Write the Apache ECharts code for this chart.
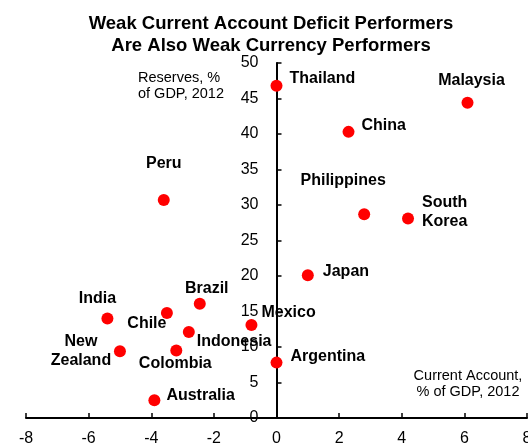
<!DOCTYPE html>
<html>
<head>
<meta charset="utf-8">
<script src="https://cdn.jsdelivr.net/npm/echarts@6/dist/echarts.min.js"></script>
<style>
  html, body { margin: 0; padding: 0; background: #fff; }
  #chart { width: 528px; height: 446px; }
</style>
</head>
<body>
<div id="chart"></div>
<script>
// 数据
const countries = ['Thailand', 'Malaysia', 'China', 'Philippines', 'South\nKorea', 'Japan', 'Peru', 'Brazil',
    'India', 'Chile', 'Indonesia', 'Mexico', 'New\nZealand', 'Colombia', 'Australia', 'Argentina'];
const currentAccount = [0.0, 6.1, 2.3, 2.8, 4.2, 1.0, -3.6, -2.45, -5.4, -3.5, -2.8, -0.8, -5.0, -3.2, -3.9, 0.0];
const reserves = [46.8, 44.4, 40.3, 28.7, 28.1, 20.1, 30.7, 16.1, 14.0, 14.8, 12.1, 13.1, 9.4, 9.5, 2.5, 7.8];
const xTicks = [-8, 8, 2];
const yTicks = [0, 50, 5];

// 标签位置 (相对点的偏移)
const labelPlace = {
    'Thailand': ['left', 13, -7],
    'Malaysia': ['center', 4, -22],
    'China': ['left', 13, -6],
    'Philippines': ['center', -21, -34],
    'South\nKorea': ['left', 14, -6],
    'Japan': ['left', 15, -4],
    'Peru': ['center', 0, -36],
    'Brazil': ['center', 7, -15],
    'India': ['center', -10, -20],
    'Chile': ['center', -20, 11],
    'Indonesia': ['left', 8, 10],
    'Mexico': ['left', 10, -12],
    'New\nZealand': ['center', -39, 0],
    'Colombia': ['center', -1, 13],
    'Australia': ['left', 12, -5],
    'Argentina': ['left', 14, -6]
};

const font = 'Liberation Sans, Arial, sans-serif';
const gridLeft = 26, gridRight = 1;
const gridWidth = 528 - gridLeft - gridRight;

const points = countries.map((name, i) => {
    const p = labelPlace[name];
    return {
        name: name,
        value: [currentAccount[i], reserves[i]],
        label: {
            show: true,
            position: 'inside',
            align: p[0],
            verticalAlign: 'middle',
            offset: [p[1], p[2]],
            formatter: '{b}'
        }
    };
});

const chart = echarts.init(document.getElementById('chart'));
chart.setOption({
    animation: false,
    title: {
        text: 'Weak Current Account Deficit Performers\nAre Also Weak Currency Performers',
        left: 266,
        textAlign: 'center',
        top: 8,
        textStyle: {
            fontFamily: font,
            fontSize: 18.5,
            fontWeight: 'bold',
            color: '#000',
            lineHeight: 22
        }
    },
    grid: {
        left: gridLeft,
        right: gridRight,
        top: 63,
        bottom: 28,
        outerBoundsMode: 'none',
        containLabel: false
    },
    xAxis: {
        type: 'value',
        min: xTicks[0],
        max: xTicks[1],
        interval: xTicks[2],
        axisLine: { onZero: false, lineStyle: { color: '#000', width: 2 } },
        axisTick: { inside: true, length: 5, lineStyle: { color: '#000', width: 1.5 } },
        axisLabel: { color: '#000', fontFamily: font, fontSize: 16, margin: 13 },
        splitLine: { show: false }
    },
    yAxis: {
        type: 'value',
        min: yTicks[0],
        max: yTicks[1],
        interval: yTicks[2],
        // 放到 x=0 的位置
        offset: -gridWidth / 2,
        axisLine: { onZero: false, lineStyle: { color: '#000', width: 2 } },
        axisTick: { inside: true, length: 5, lineStyle: { color: '#000', width: 1.5 } },
        axisLabel: { color: '#000', fontFamily: font, fontSize: 16, margin: 18 },
        splitLine: { show: false }
    },
    graphic: [
        {
            type: 'text',
            left: 138,
            top: 70,
            style: {
                text: 'Reserves, %\nof GDP, 2012',
                font: '14.5px ' + font,
                fill: '#000',
                lineHeight: 16
            }
        },
        {
            type: 'text',
            x: 468,
            y: 368,
            style: {
                text: 'Current Account,\n% of GDP, 2012',
                font: '14.5px ' + font,
                fill: '#000',
                align: 'center',
                lineHeight: 16
            }
        }
    ],
    series: [
        {
            type: 'scatter',
            symbolSize: 12,
            itemStyle: { color: '#ff0000', opacity: 1 },
            label: {
                color: '#000',
                fontFamily: font,
                fontSize: 16,
                fontWeight: 'bold',
                lineHeight: 19
            },
            data: points
        }
    ]
});
</script>
</body>
</html>
